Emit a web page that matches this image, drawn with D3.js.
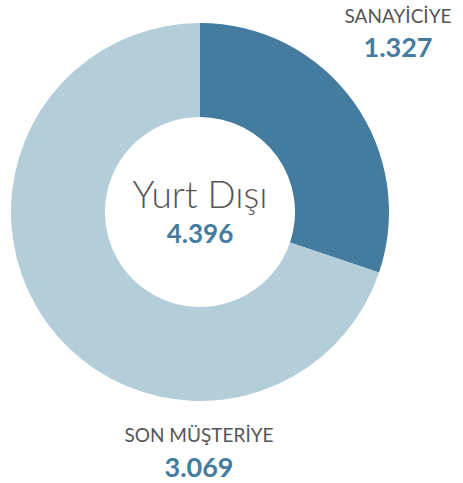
<!DOCTYPE html>
<html><head><meta charset="utf-8">
<script src="https://cdn.jsdelivr.net/npm/d3@7"></script>
<style>body{margin:0;background:#fff}svg{display:block}</style>
</head><body>
<svg id="c" width="463" height="483"></svg>
<script>
const categories = ["SANAYİCİYE", "SON MÜŞTERİYE"];
const values = [1.327, 3.069];
const valueLabels = ["1.327", "3.069"];
const centerTitle = "Yurt Dışı";
const centerValue = "4.396";
const colors = ["#447ca0", "#b3cdd9"];

const svg = d3.select("#c");
const cx = 200, cy = 212, rOuter = 189, rInner = 95;
const pie = d3.pie().sort(null).value(d => d)(values);
const arc = d3.arc().innerRadius(rInner).outerRadius(rOuter);
const g = svg.append("g").attr("transform", `translate(${cx},${cy})`);
g.selectAll("path").data(pie).join("path").attr("d", arc).attr("fill", (d, i) => colors[i]);

const font = "Lato, 'Open Sans', sans-serif";
const grey = "#555", blue = "#447ca0";
svg.append("text").attr("x", cx).attr("y", 208).attr("text-anchor", "middle")
  .attr("font-family", font).attr("font-weight", 300).attr("font-size", 37).attr("fill", grey).text(centerTitle);
svg.append("text").attr("x", cx).attr("y", 243).attr("text-anchor", "middle")
  .attr("font-family", font).attr("font-weight", 700).attr("font-size", 26).attr("fill", blue).text(centerValue);

const labelPos = [{x: 398, y1: 23, y2: 57}, {x: 199, y1: 442, y2: 477}];
labelPos.forEach((p, i) => {
  svg.append("text").attr("x", p.x).attr("y", p.y1).attr("text-anchor", "middle")
    .attr("font-family", font).attr("font-size", 19).attr("fill", grey).text(categories[i]);
  svg.append("text").attr("x", p.x).attr("y", p.y2).attr("text-anchor", "middle")
    .attr("font-family", font).attr("font-weight", 700).attr("font-size", 27).attr("fill", blue).text(valueLabels[i]);
});
</script>
</body></html>
